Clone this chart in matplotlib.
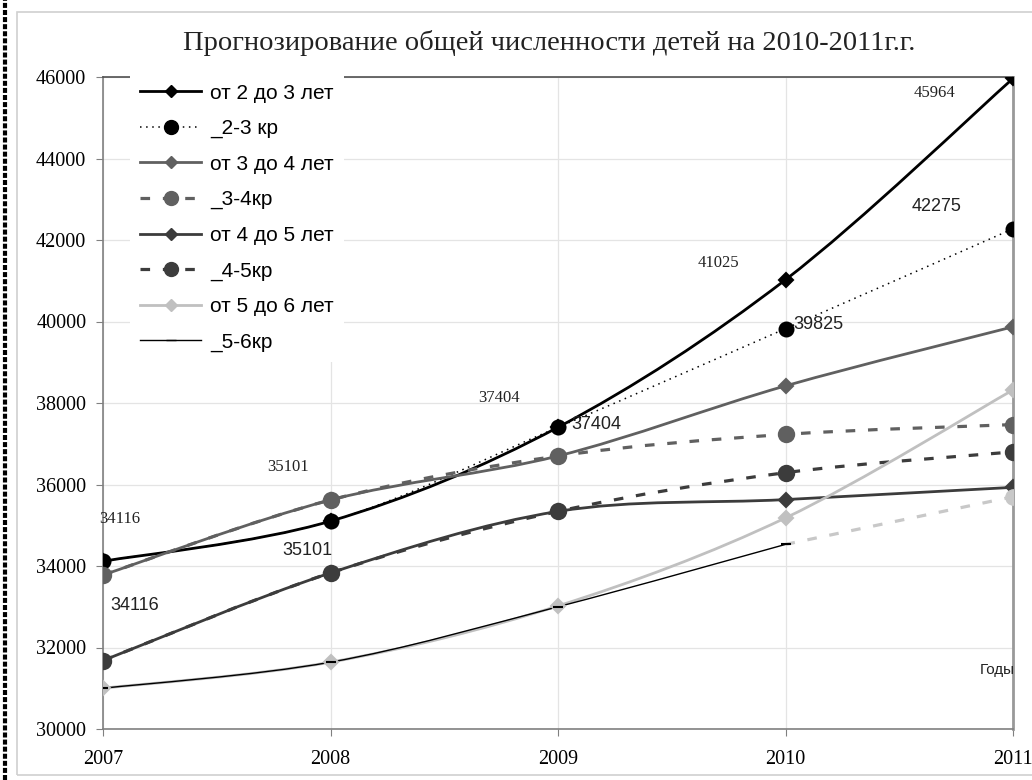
import matplotlib
matplotlib.use("Agg")
import matplotlib.pyplot as plt
from matplotlib.path import Path
from matplotlib.patches import PathPatch, Rectangle
from matplotlib.lines import Line2D

years = [2007, 2008, 2009, 2010, 2011]

age_2_3 = [34116, 35101, 37404, 41025, 45964]
kr_2_3 = [34116, 35101, 37404, 39825, 42275]
age_3_4 = [33780, 35620, 36700, 38420, 39870]
kr_3_4 = [33780, 35620, 36700, 37230, 37470]
age_4_5 = [31680, 33830, 35340, 35630, 35930]
kr_4_5 = [31680, 33830, 35340, 36290, 36800]
age_5_6 = [31000, 31640, 33020, 35180, 38320]
kr_5_6 = [31000, 31640, 33000, 34530, 35700]

serif_labels = ["34116", "35101", "37404", "41025", "45964"]
serif_offsets = [(17, 42), (-42, 54), (-59, 29), (-67, 17), (-78, -15)]
sans_labels = ["34116", "35101", "37404", "39825", "42275"]
sans_offsets = [(32, -44), (-23, -29), (38, 3), (33, 4), (-76, 22)]

title = "Прогнозирование общей численности детей на 2010-2011г.г."
SERIF = "Liberation Serif"
SANS = "Liberation Sans"


def smooth(xs, ys):
    # excel-like smoothed line: cubic bezier, catmull-rom control points
    n = len(xs)
    verts = [(xs[0], ys[0])]
    codes = [Path.MOVETO]
    for i in range(n - 1):
        a = i - 1 if i > 0 else i
        d = i + 2 if i + 2 < n else i + 1
        c1 = (xs[i] + (xs[i + 1] - xs[a]) / 6, ys[i] + (ys[i + 1] - ys[a]) / 6)
        c2 = (xs[i + 1] - (xs[d] - xs[i]) / 6, ys[i + 1] - (ys[d] - ys[i]) / 6)
        verts += [c1, c2, (xs[i + 1], ys[i + 1])]
        codes += [Path.CURVE4] * 3
    return Path(verts, codes)


def draw(ax, xs, ys, color, lw, ls, marker, ms, mcolor=None, zorder=3):
    ax.add_patch(PathPatch(smooth(xs, ys), fill=False, edgecolor=color,
                           lw=lw, linestyle=ls, zorder=zorder, capstyle='butt'))
    ax.plot(xs, ys, linestyle='none', marker=marker, ms=ms,
            color=mcolor or color, mew=1.5, zorder=zorder + 0.5)


fig = plt.figure(figsize=(10.32, 7.8), dpi=100)
fig.patch.set_facecolor('white')
fig.add_artist(Rectangle((17 / 1032, 5 / 780), 1.0, 763 / 780, transform=fig.transFigure,
                         fill=False, edgecolor='#d0d0d0', lw=1.2))
fig.add_artist(Line2D([5 / 1032, 5 / 1032], [0, 1], transform=fig.transFigure,
                      color='black', lw=3, linestyle=(0, (1.2, 0.5))))

ax = fig.add_axes([103 / 1032, 1 - 729 / 780, 910 / 1032, 652 / 780])
ax.set_xlim(2007, 2011)
ax.set_ylim(30000, 46000)
ax.set_xticks(years)
ax.set_yticks(range(30000, 46001, 2000))
ax.grid(True, color='#e4e4e4', lw=0.9, zorder=0)
ax.set_axisbelow(True)
for s in ax.spines.values():
    s.set_color('#808080')
    s.set_linewidth(1.2)
ax.spines['top'].set_color('#505050')
ax.spines['right'].set_linewidth(2)
ax.spines['right'].set_color('#999999')
ax.tick_params(axis='both', direction='out', length=5, color='#808080', labelsize=14.5)
ax.tick_params(axis='x', pad=10)
ax.tick_params(axis='y', pad=7)
for lab in ax.get_xticklabels() + ax.get_yticklabels():
    lab.set_fontfamily(SERIF)

draw(ax, years, age_2_3, 'black', 2.0, '-', 'D', 7)
draw(ax, years, kr_2_3, 'black', 1.1, (0, (1, 3)), 'o', 10)
draw(ax, years, age_3_4, '#606060', 2.0, '-', 'D', 7)
draw(ax, years, kr_3_4, '#606060', 2.3, (0, (3, 4)), 'o', 11)
draw(ax, years, age_4_5, '#3c3c3c', 2.0, '-', 'D', 7)
draw(ax, years, kr_4_5, '#3c3c3c', 2.3, (0, (3, 4)), 'o', 11)
draw(ax, years, age_5_6, '#c0c0c0', 2.0, '-', 'D', 7)
draw(ax, years[:4], kr_5_6[:4], 'black', 1.0, '-', '_', 7)
ax.plot(years[3:], kr_5_6[3:], color='#c8c8c8', lw=2.3, linestyle=(0, (3, 4)), zorder=3)
ax.plot(years[4:], kr_5_6[4:], linestyle='none', marker='o', ms=11, color='#c8c8c8', zorder=3.5)

for x, y, t, off in zip(years, age_2_3, serif_labels, serif_offsets):
    ax.annotate(t, (x, y), xytext=off, textcoords='offset pixels', ha='center', va='center',
                fontsize=12, family=SERIF, color='#222222', zorder=6)
for x, y, t, off in zip(years, kr_2_3, sans_labels, sans_offsets):
    ax.annotate(t, (x, y), xytext=off, textcoords='offset pixels', ha='center', va='center',
                fontsize=13, family=SANS, color='#222222', zorder=6)
ax.text(0.983, 0.09, "Годы", transform=ax.transAxes, ha='center', va='center',
        fontsize=11, family=SANS, color='#222222')

handles = [
    Line2D([], [], color='black', lw=2.0, marker='D', ms=6),
    Line2D([], [], color='black', lw=1.1, linestyle=(0, (1, 3)), marker='o', ms=10),
    Line2D([], [], color='#606060', lw=2.0, marker='D', ms=6),
    Line2D([], [], color='#606060', lw=2.3, linestyle=(0, (3, 4)), marker='o', ms=10),
    Line2D([], [], color='#3c3c3c', lw=2.0, marker='D', ms=6),
    Line2D([], [], color='#3c3c3c', lw=2.3, linestyle=(0, (3, 4)), marker='o', ms=10),
    Line2D([], [], color='#c0c0c0', lw=2.0, marker='D', ms=6),
    Line2D([], [], color='black', lw=1.0, marker='_', ms=7),
]
labels = ["от 2 до 3 лет", "_2-3 кр", "от 3 до 4 лет", "_3-4кр",
          "от 4 до 5 лет", "_4-5кр", "от 5 до 6 лет", "_5-6кр"]
leg = ax.legend(handles, labels, loc='upper left', bbox_to_anchor=(27 / 910, 1.006),
                frameon=True, facecolor='white', edgecolor='none', framealpha=1,
                fancybox=False, borderaxespad=0, borderpad=0.5, handlelength=2.9,
                handletextpad=0.43, labelspacing=0.79, prop={'family': SANS, 'size': 15})
leg.set_zorder(5)

fig.text(549 / 1032, 1 - 43 / 780, title, ha='center', va='center', fontsize=20.5,
         family=SERIF, color='#222222')

fig.savefig("out.png", dpi=100)
